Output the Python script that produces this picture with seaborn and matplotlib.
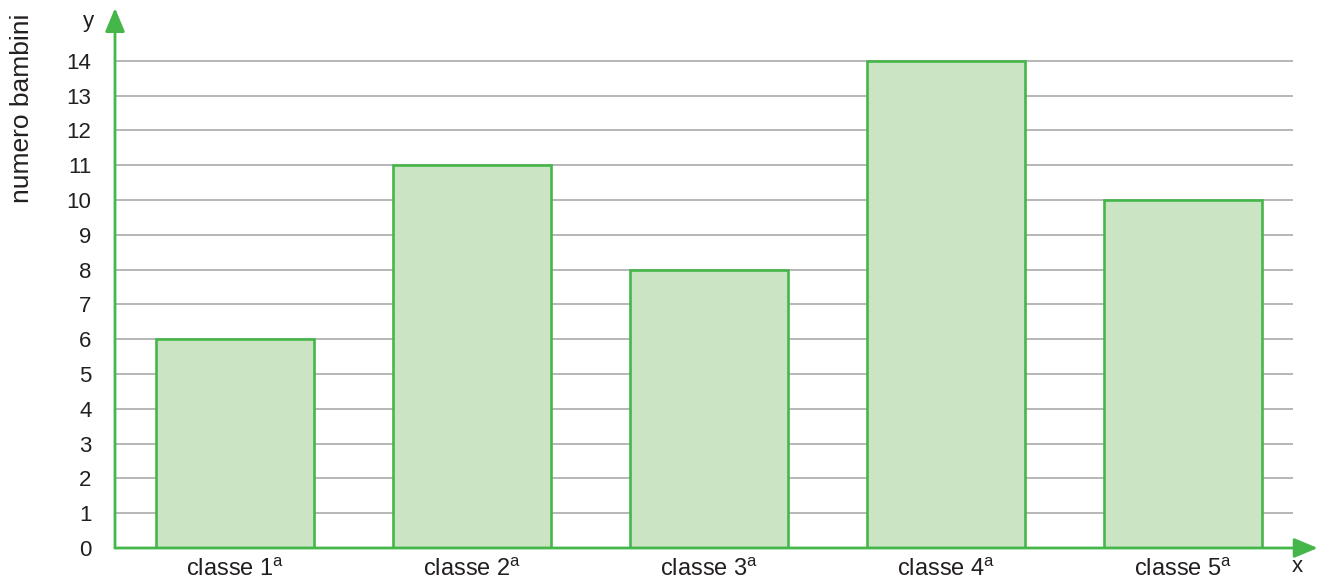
import pandas as pd
import matplotlib
matplotlib.use("Agg")
import matplotlib.pyplot as plt
import seaborn as sns

# data
classi = ["classe 1", "classe 2", "classe 3", "classe 4", "classe 5"]
bambini = [6, 11, 8, 14, 10]
y_ticks = list(range(0, 15))

green = "#45b649"
fill = "#cae4c4"
grid_gray = "#aaaaaa"
text_col = "#231f20"

sns.set_theme(style="white")
plt.rcParams["font.family"] = ["Liberation Sans", "DejaVu Sans"]
plt.rcParams["mathtext.fontset"] = "custom"
plt.rcParams["mathtext.rm"] = "Liberation Sans"
plt.rcParams["mathtext.default"] = "regular"

df = pd.DataFrame({"classe": classi, "bambini": bambini})

fig = plt.figure(figsize=(13.21, 5.82), dpi=100)
ax = fig.add_axes([115 / 1321, 34 / 582, 1178 / 1321, 540 / 582])

sns.barplot(data=df, x="classe", y="bambini", color=fill, edgecolor=green,
            linewidth=1.9, width=0.663, saturation=1, ax=ax, zorder=3)

ax.set_xlim(-0.506, 4.464)
ax.set_ylim(0, 15.52)
ax.set_yticks(y_ticks)
ax.set_yticklabels([str(v) for v in y_ticks], fontsize=16, color=text_col)
ax.set_xticks(range(len(classi)))
ax.set_xticklabels([c + "$^{a}$" for c in classi], fontsize=17, color=text_col)
ax.tick_params(axis="y", length=0, pad=17)
ax.tick_params(axis="x", length=0, pad=8)
ax.set_xlabel("")
ax.set_ylabel("")

ax.yaxis.grid(True, color=grid_gray, linewidth=1.2, zorder=0)
ax.set_axisbelow(True)
for s in ax.spines.values():
    s.set_visible(False)

# green axes with arrows
arrow = dict(arrowstyle="-|>,head_length=0.72,head_width=0.3", color=green,
             lw=2, mutation_scale=20, shrinkA=0, shrinkB=0)
ax.annotate("", xy=(1.021, 0), xytext=(0, 0), xycoords="axes fraction",
            arrowprops=arrow, annotation_clip=False, zorder=5)
ax.annotate("", xy=(0, 1.0), xytext=(0, 0), xycoords="axes fraction",
            arrowprops=arrow, annotation_clip=False, zorder=5)

fig.text(88 / 1321, 1 - 21 / 582, "y", fontsize=16, color=text_col,
         ha="center", va="center")
fig.text(1297 / 1321, 1 - 567 / 582, "x", fontsize=16, color=text_col,
         ha="center", va="center")
fig.text(22 / 1321, 1 - 108 / 582, "numero bambini", fontsize=19, color=text_col,
         rotation=90, ha="center", va="center")

fig.savefig("out.png", dpi=100)
